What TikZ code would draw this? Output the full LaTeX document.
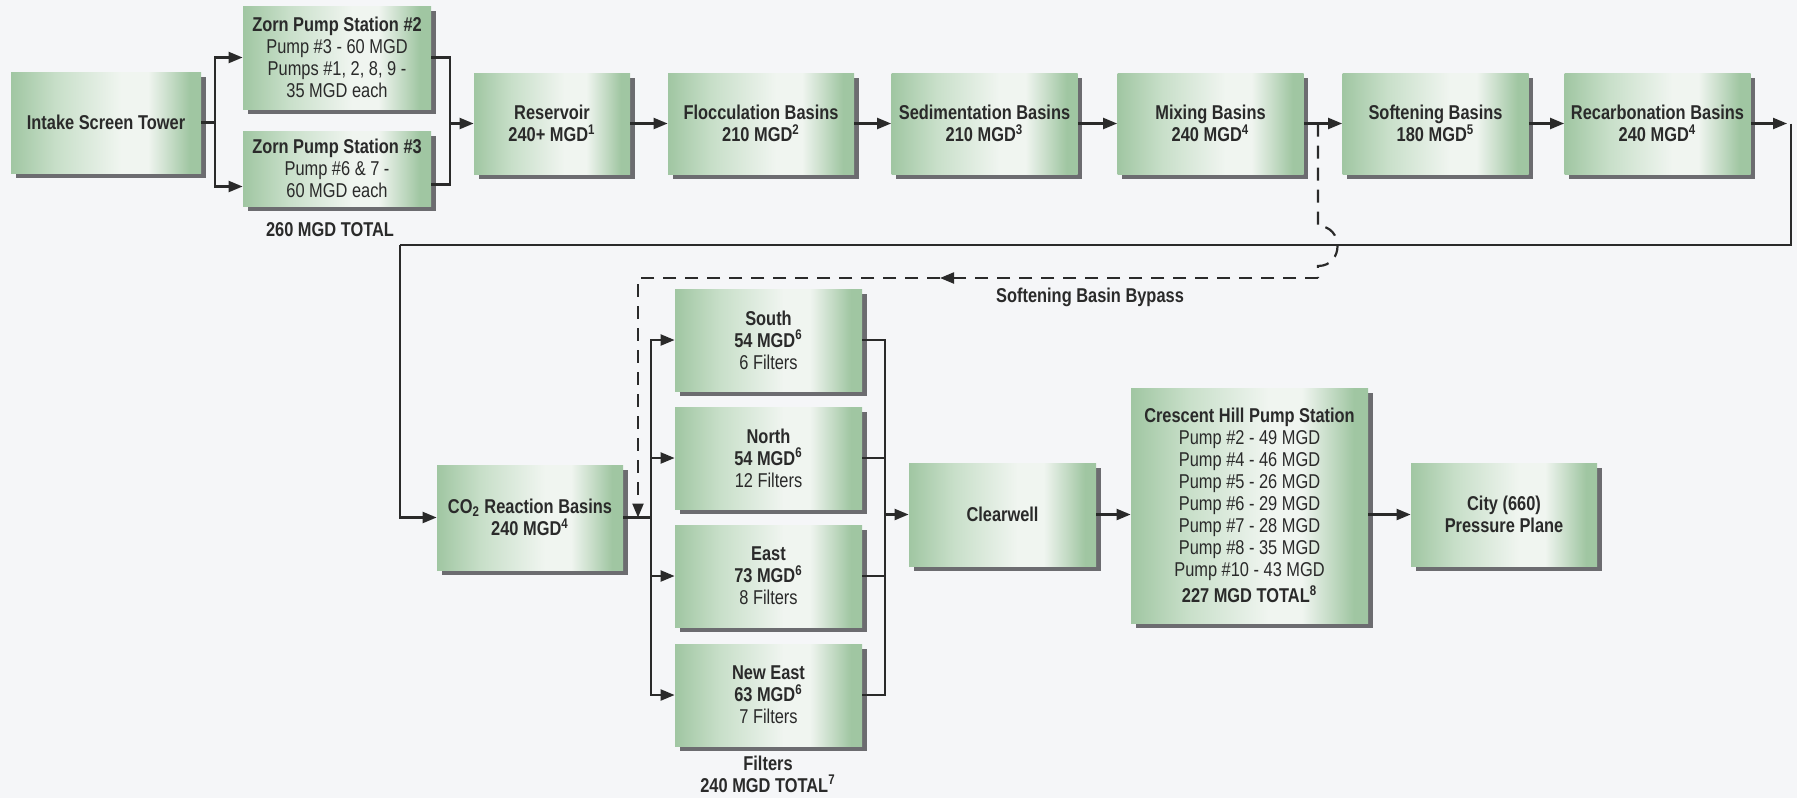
\documentclass[tikz,border=0pt]{standalone}
\usepackage{fontspec}
\setmainfont{Liberation Sans}[FakeStretch=0.82]
\usetikzlibrary{shadows,arrows.meta,calc}
\definecolor{g1}{RGB}{160,198,162}
\definecolor{g2}{RGB}{240,245,240}
\definecolor{g3}{RGB}{200,223,201}
\definecolor{bg}{RGB}{245,246,248}
\definecolor{ink}{RGB}{42,42,42}
\definecolor{shd}{RGB}{108,108,112}
\pgfdeclarehorizontalshading{boxshade}{100bp}{color(0bp)=(g1); color(25bp)=(g1); color(37bp)=(g3); color(54bp)=(g2); color(61bp)=(g2); color(72bp)=(g1); color(75bp)=(g1); color(100bp)=(g1)}
\tikzset{
  stagebox/.style={shade, shading=boxshade,
    drop shadow={shadow xshift=2.3pt, shadow yshift=-2.6pt, fill=shd, opacity=1},
    inner sep=1pt, align=center, text=ink, font=\fontsize{10}{11}\selectfont},
  boldbox/.style={stagebox, font=\fontsize{10}{11}\selectfont\bfseries},
  wide/.style={minimum width=93pt, minimum height=50.5pt},
  filterbox/.style={boldbox, minimum width=93.5pt, minimum height=51pt},
  link/.style={draw=ink, line width=1.1pt},
  arr/.style={link, -{Triangle[length=7pt,width=5.5pt]}},
  bypass/.style={link, dash pattern=on 6.5pt off 4.5pt},
  lbl/.style={text=ink, font=\fontsize{10}{11}\selectfont\bfseries, align=center}
}
\begin{document}
\begin{tikzpicture}[x=0.5pt,y=-0.5pt]
\fill[bg] (0,0) rectangle (1797,798);
\useasboundingbox (0,0) rectangle (1797,798);

% top row
\node[boldbox, minimum width=95pt, minimum height=50.5pt] (intake) at (106,122.5) {Intake Screen Tower};
\node[stagebox, minimum width=94pt, minimum height=51.5pt] (zorn2) at (337,57.5)
  {{\bfseries Zorn Pump Station \#2}\\Pump \#3 - 60 MGD\\Pumps \#1, 2, 8, 9 -\\35 MGD each};
\node[stagebox, minimum width=94pt, minimum height=37.5pt] (zorn3) at (337,168.5)
  {{\bfseries Zorn Pump Station \#3}\\Pump \#6 \& 7 -\\60 MGD each};
\node[lbl] (ztotal) at (330,230) {260 MGD TOTAL};
\node[boldbox, minimum width=78pt, minimum height=50.5pt] (reservoir) at (552,123.5) {Reservoir\\240+ MGD\textsuperscript{1}};
\node[boldbox, wide] (flocc) at (761,123.5) {Flocculation Basins\\210 MGD\textsuperscript{2}};
\node[boldbox, wide] (sedim) at (984.5,123.5) {Sedimentation Basins\\210 MGD\textsuperscript{3}};
\node[boldbox, wide] (mixing) at (1210.5,123.5) {Mixing Basins\\240 MGD\textsuperscript{4}};
\node[boldbox, wide] (soften) at (1435.5,123.5) {Softening Basins\\180 MGD\textsuperscript{5}};
\node[boldbox, wide] (recarb) at (1657.5,123.5) {Recarbonation Basins\\240 MGD\textsuperscript{4}};

% lower part
\node[boldbox, minimum width=93pt, minimum height=52.5pt] (co2) at (530,517.5) {CO\textsubscript{2} Reaction Basins\\240 MGD\textsuperscript{4}};
\node[filterbox] (south) at (768.5,340) {South\\54 MGD\textsuperscript{6}\\{\mdseries 6 Filters}};
\node[filterbox] (north) at (768.5,458) {North\\54 MGD\textsuperscript{6}\\{\mdseries 12 Filters}};
\node[filterbox] (east) at (768.5,576) {East\\73 MGD\textsuperscript{6}\\{\mdseries 8 Filters}};
\node[filterbox] (neweast) at (768.5,695) {New East\\63 MGD\textsuperscript{6}\\{\mdseries 7 Filters}};
\node[lbl] (ftotal) at (768,774) {Filters\\240 MGD TOTAL\textsuperscript{7}};
\node[boldbox, minimum width=93.5pt, minimum height=51.5pt] (clearwell) at (1002.5,514.5) {Clearwell};
\node[stagebox, minimum width=118.5pt, minimum height=117.5pt] (crescent) at (1249.5,505.5)
  {{\bfseries Crescent Hill Pump Station}\\Pump \#2 - 49 MGD\\Pump \#4 - 46 MGD\\Pump \#5 - 26 MGD\\Pump \#6 - 29 MGD\\Pump \#7 - 28 MGD\\Pump \#8 - 35 MGD\\Pump \#10 - 43 MGD\\[2pt]{\bfseries 227 MGD TOTAL\textsuperscript{8}}};
\node[boldbox, minimum width=93pt, minimum height=51.5pt] (city) at (1504,514.5) {City (660)\\Pressure Plane};
\node[lbl] (bylabel) at (1090,297) {Softening Basin Bypass};

% connectors: intake to pump stations
\coordinate (s1) at (215,122.5);
\draw[link] (intake.east) -- (s1);
\draw[arr] (s1) |- (zorn2.west);
\draw[arr] (s1) |- ($(zorn3.west)+(0,18)$);
\coordinate (m1) at (450,123.5);
\draw[link] (zorn2.east) -| (m1);
\draw[link] ($(zorn3.east)+(0,16)$) -| (m1);
\draw[arr] (m1) -- (reservoir.west);

% top row chain
\draw[arr] (reservoir.east) -- (flocc.west);
\draw[arr] (flocc.east) -- (sedim.west);
\draw[arr] (sedim.east) -- (mixing.west);
\draw[arr] (mixing.east) -- (soften.west);
\draw[arr] (soften.east) -- (recarb.west);

% return line
\coordinate (r1) at (1791,123.5);
\coordinate (r2) at (400,245);
\draw[arr, shorten >=2pt] (recarb.east) -- (r1);
\draw[link] (r1) |- (r2);
\draw[arr] (r2) |- (co2.west);

% filters
\coordinate (f1) at (651,517.5);
\draw[link] (co2.east) -- (f1);
\foreach \n in {south,north,east,neweast} \draw[arr] (f1) |- (\n.west);
\coordinate (f2) at (885,514.5);
\foreach \n in {south,north,east,neweast} \draw[link] (\n.east) -| (f2);
\draw[arr] (f2) -- (clearwell.west);
\draw[arr] (clearwell.east) -- (clearwell.east -| crescent.west);
\draw[arr] (crescent.east |- city.west) -- (city.west);

% bypass
\coordinate (b0) at (1318,123.5);
\coordinate (b1) at (1318,226);
\coordinate (b2) at (1318,266);
\coordinate (b3) at (1318,278);
\coordinate (b4) at (940,278);
\coordinate (b5) at (638,278);
\draw[bypass] (b0) -- (b1) .. controls (1344,226) and (1344,266) .. (b2) -- (b3);
\draw[bypass, -{Triangle[length=7pt,width=5.5pt]}] (b3) -- (b4);
\draw[bypass, -{Triangle[length=7pt,width=5.5pt]}] (b4) -- (b5) -- (b5 |- co2.east);
\end{tikzpicture}
\end{document}
